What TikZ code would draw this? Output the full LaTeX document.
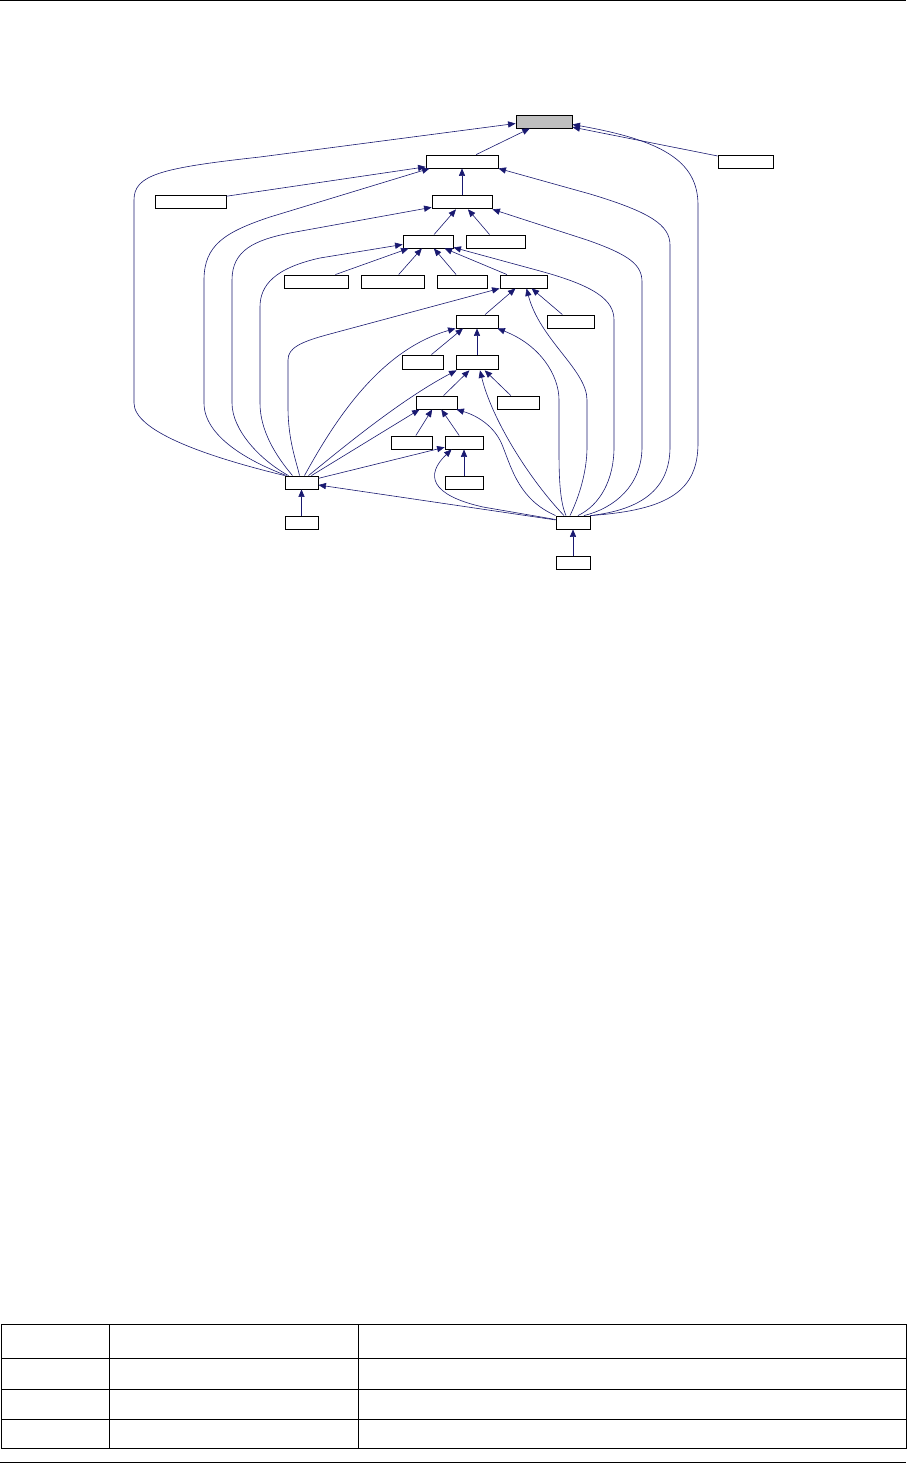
\documentclass[tikz,border=0pt]{standalone}
\usepackage{xcolor}
\usepackage{tikz}
\usetikzlibrary{positioning, arrows.meta}
\definecolor{archicol}{HTML}{191970}
\definecolor{selcol}{HTML}{BFBFBF}
\tikzset{
	>={Triangle[length=7.5pt, width=6.2pt]},
	% classe (riquadro del grafo)
	classe/.style={draw, line width=0.9pt, rectangle, fill=white, minimum height=13pt, inner sep=0pt},
	% classe documentata (evidenziata)
	classesel/.style={classe, fill=selcol},
	% relazione di ereditarieta'
	eredita/.style={->, archicol, line width=0.6pt},
	% righe di pagina e tabella
	riga/.style={black, line width=1pt},
}

\begin{document}
\begin{tikzpicture}[x=1pt, y=-1pt]
    \useasboundingbox (0,0) rectangle (908,1463);
    \node[classesel, minimum width=56pt] (a) at (544,121.5) {};
    \node[classe, minimum width=72pt] (b) at (462,161.5) {};
    \node[classe, minimum width=55pt] (bd) at (745.5,161.5) {};
    \node[classe, minimum width=71pt] (cs) at (190.5,201.5) {};
    \node[classe, minimum width=60pt, below=27pt of b] (c) {};
    \node[classe, minimum width=50pt] (d) at (428,241.5) {};
    \node[classe, minimum width=59pt] (dd) at (495.5,241.5) {};
    \node[classe, minimum width=64pt] (e1) at (316,281.5) {};
    \node[classe, minimum width=63pt] (e2) at (392.5,281.5) {};
    \node[classe, minimum width=50pt] (e3) at (462,281.5) {};
    \node[classe, minimum width=47pt] (e4) at (523.5,281.5) {};
    \node[classe, minimum width=42pt] (f) at (477,321.5) {};
    \node[classe, minimum width=47pt] (fd) at (570.5,321.5) {};
    \node[classe, minimum width=41pt, minimum height=14pt] (gs) at (422.5,362) {};
    \node[classe, minimum width=42pt, minimum height=14pt, below=27pt of f] (g) {};
    \node[classe, minimum width=41pt] (h) at (436.5,402.5) {};
    \node[classe, minimum width=42pt] (hd) at (518,402.5) {};
    \node[classe, minimum width=41pt] (is) at (411.5,442.5) {};
    \node[classe, minimum width=38pt] (i) at (464,442.5) {};
    \node[classe, minimum width=38pt, below=27pt of i] (j) {};
    \node[classe, minimum width=33pt] (k) at (301.5,482.5) {};
    \node[classe, minimum width=33pt, below=27pt of k] (kk) {};
    \node[classe, minimum width=34pt] (m) at (573,522.5) {};
    \node[classe, minimum width=34pt, below=27pt of m] (mm) {};

    \draw[eredita] (b) -- (a);
    \draw[eredita] (bd) -- (a);
    \draw[eredita] (c) -- (b);
    \draw[eredita] (cs) -- (b);
    \draw[eredita] (d) -- (c);
    \draw[eredita] (dd) -- (c);
    \foreach \n in {e1,e2,e3,e4} \draw[eredita] (\n) -- (d);
    \draw[eredita] (f) -- (e4);
    \draw[eredita] (fd) -- (e4);
    \draw[eredita] (gs) -- ([xshift=-14pt]f.south);
    \draw[eredita] (g) -- (f);
    \draw[eredita] (h) -- (g);
    \draw[eredita] (hd) -- (g);
    \draw[eredita] (is) -- (h);
    \draw[eredita] (i) -- (h);
    \draw[eredita] (j) -- (i);
    \draw[eredita] (kk) -- (k);
    \draw[eredita] (mm) -- (m);
    \draw[eredita] (k) -- (i);
    \draw[eredita] (m) -- (k);

    \draw[eredita] (k.north west) .. controls (200,455) and (134,430) .. (134,403) -- (134,200) .. controls (134,175) and (160,168) .. (260,157) -- ([yshift=-2pt]a.west);
    \draw[eredita] ([xshift=-15pt]k.north) .. controls (245,460) and (204,435) .. (204,403) -- (204,280) .. controls (204,245) and (225,232) .. (270,217) -- ([xshift=4pt]b.south west);
    \draw[eredita] ([xshift=-13pt]k.north) .. controls (260,460) and (232,430) .. (232,403) -- (232,280) .. controls (232,250) and (255,240) .. (290,233) -- ([yshift=2pt]c.south west);
    \draw[eredita] ([xshift=-9pt]k.north) .. controls (275,455) and (260,430) .. (260,403) -- (260,307) .. controls (260,285) and (275,268) .. (320,258) -- ([yshift=-3pt]d.west);
    \draw[eredita] ([xshift=-2pt]k.north) .. controls (296,460) and (288,440) .. (288,407) -- (288,360) .. controls (288,348) and (300,342) .. (330,334) -- (e4.south west);
    \draw[eredita] ([xshift=3pt]k.north) .. controls (335,420) and (380,350) .. (f.south west);
    \draw[eredita] ([xshift=7pt]k.north) .. controls (340,450) and (400,400) .. ([xshift=1pt]g.south west);
    \draw[eredita] ([xshift=10pt]k.north) -- ([xshift=4pt]h.south west);

    \draw[eredita] (m.north west) .. controls (520,500) and (512,470) .. (503,447) .. controls (495,425) and (475,415) .. ([xshift=-1pt]h.south east);
    \draw[eredita] ([xshift=-9pt]m.north) .. controls (530,480) and (492,420) .. ([xshift=3pt]g.south);
    \draw[eredita] ([xshift=-7pt]m.north) .. controls (559,500) and (559,470) .. (559,447) -- (559,400) .. controls (559,375) and (540,345) .. ([xshift=-1pt]f.south east);
    \draw[eredita] ([xshift=-3pt]m.north) .. controls (580,495) and (587,470) .. (587,447) -- (587,400) .. controls (587,370) and (540,340) .. ([xshift=3pt]e4.south);
    \draw[eredita] ([xshift=5pt]m.north) .. controls (600,505) and (614,480) .. (614,447) -- (614,320) .. controls (614,300) and (595,286) .. (540,271) -- ([yshift=1pt]d.south east);
    \draw[eredita] ([xshift=11pt]m.north) .. controls (615,508) and (642,485) .. (642,447) -- (642,282) .. controls (642,265) and (630,255) .. (587,240) -- (c.south east);
    \draw[eredita] (m.north east) .. controls (640,510) and (670,490) .. (670,447) -- (670,245) .. controls (670,225) and (650,212) .. (590,194) -- (b.south east);
    \draw[eredita] (m.north east) .. controls (670,510) and (698,490) .. (698,443) -- (698,205) .. controls (698,160) and (660,140) .. ([yshift=-3pt]a.east);
    \draw[eredita] ([yshift=3pt]m.west) -- (483,507) .. controls (430,495) and (425,475) .. ([xshift=7pt]i.south west);

    \draw[riga] (0,0.6) -- (906,0.6);
    \draw[riga] (0,1462.3) -- (906,1462.3);
    \draw[riga] (1.3,1324.3) rectangle (906.7,1448.3);
    \foreach \y in {1358.3,1389.3,1419.3} \draw[riga] (1.3,\y) -- (906.7,\y);
    \foreach \x in {109.3,358.3} \draw[riga] (\x,1324.3) -- (\x,1448.3);
  \end{tikzpicture}
\end{document}
